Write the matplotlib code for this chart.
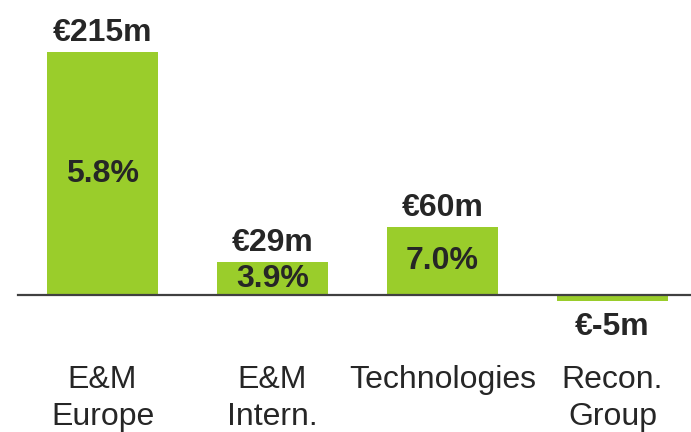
import matplotlib.pyplot as plt
import numpy as np

# data
categories = ['E&M\nEurope', 'E&M\nIntern.', 'Technologies', 'Recon.\nGroup']
values = [215, 29, 60, -5]
value_labels = ['€215m', '€29m', '€60m', '€-5m']
margins = ['5.8%', '3.9%', '7.0%', '']

bar_color = '#9acd2b'
text_color = '#262626'

plt.rcParams['font.family'] = ['Liberation Sans', 'DejaVu Sans']

fig = plt.figure(figsize=(6.91, 4.32), dpi=100)
ax = fig.add_axes([0, 0, 1, 1])

x = np.arange(len(categories))
ax.bar(x, values, width=0.65, color=bar_color, zorder=2)

# baseline
ax.plot([-0.497, 3.47], [0, 0], color='#404040', lw=1.6, zorder=3)

for xi, v, lab, m in zip(x, values, value_labels, margins):
    if v >= 0:
        ax.text(xi, v + 17, lab, ha='center', va='center', fontsize=23,
                fontweight='bold', color=text_color)
    else:
        ax.text(xi, v - 23, lab, ha='center', va='center', fontsize=23,
                fontweight='bold', color=text_color)
    if m:
        ax.text(xi, v / 2, m, ha='center', va='center', fontsize=23,
                fontweight='bold', color=text_color)

for xi, c in zip(x, categories):
    ax.text(xi, -61.5, c, ha='center', va='top', fontsize=23,
            color=text_color, linespacing=1.34)

ax.set_xlim(-0.603, 3.462)
ax.set_ylim(-121.2, 261)
ax.axis('off')

fig.savefig('out.png', dpi=100)
